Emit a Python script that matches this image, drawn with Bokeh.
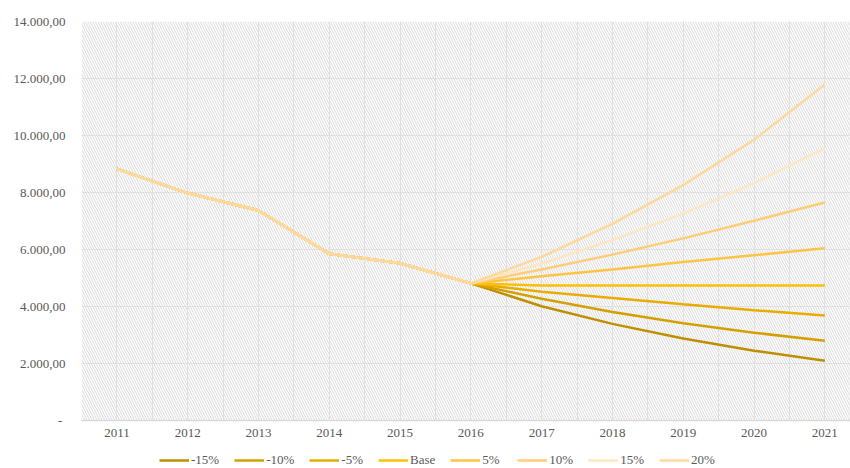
from bokeh.plotting import figure
from bokeh.layouts import column
from bokeh.models import (Range1d, FixedTicker, CustomJSTickFormatter, BoxAnnotation,
                          Legend, LegendItem)
from bokeh.embed import file_html
from bokeh.resources import INLINE

# ---- data ----
hist_years = [2011, 2012, 2013, 2014, 2015, 2016]
hist_values = [8830, 7980, 7370, 5850, 5520, 4810]

proj_years = [2017, 2018, 2019, 2020, 2021]
scenario_names = ["-15%", "-10%", "-5%", "Base", "5%", "10%", "15%", "20%"]
proj_m15 = [4010, 3390, 2880, 2450, 2100]
proj_m10 = [4270, 3810, 3410, 3080, 2800]
proj_m5 = [4520, 4300, 4080, 3870, 3680]
proj_base = [4740, 4740, 4740, 4740, 4740]
proj_p5 = [5060, 5300, 5560, 5800, 6040]
proj_p10 = [5300, 5820, 6390, 7010, 7650]
proj_p15 = [5510, 6330, 7260, 8330, 9550]
proj_p20 = [5740, 6900, 8260, 9850, 11790]
projections = [proj_m15, proj_m10, proj_m5, proj_base, proj_p5, proj_p10, proj_p15, proj_p20]

y_ticks = [0, 2000, 4000, 6000, 8000, 10000, 12000, 14000]

colors = ["#BF8F00", "#D4A000", "#E8AD00", "#FFC000", "#FFC444", "#FFCD78", "#FFE6C2", "#FFD89C"]

FONT = "Liberation Serif"
TXT = "#595959"

p = figure(width=850, height=440, output_backend="svg", toolbar_location=None,
           x_range=Range1d(2010.5, 2021.363), y_range=Range1d(0, 14000),
           min_border_left=81, min_border_right=0, min_border_top=21, min_border_bottom=20)
p.outline_line_color = None
p.background_fill_color = "white"
p.border_fill_color = "white"

# hatched plot-area background
p.add_layout(BoxAnnotation(fill_alpha=0, line_alpha=0, hatch_pattern="\\",
                           hatch_color="#dadada", hatch_scale=5, hatch_weight=1,
                           level="underlay"))

all_years = hist_years + proj_years
grid_x = [y - 0.5 for y in all_years] + all_years + [all_years[-1] + 0.5]
p.xgrid.ticker = FixedTicker(ticks=grid_x)
p.xgrid.grid_line_color = "#e4e4e4"
p.ygrid.ticker = FixedTicker(ticks=y_ticks)
p.ygrid.grid_line_color = "#e4e4e4"

p.xaxis.ticker = FixedTicker(ticks=all_years)
p.yaxis.ticker = FixedTicker(ticks=y_ticks)
p.yaxis.formatter = CustomJSTickFormatter(code="""
if (tick == 0) { return "-\\u00a0"; }
const s = Math.round(tick).toString().replace(/\\B(?=(\\d{3})+(?!\\d))/g, ".");
return s + ",00";
""")
for ax in (p.xaxis, p.yaxis):
    ax.major_label_text_font = FONT
    ax.major_label_text_font_size = "13px"
    ax.major_label_text_color = TXT
    ax.major_tick_line_color = None
    ax.minor_tick_line_color = None
p.yaxis.axis_line_color = None
p.yaxis.major_label_standoff = 10
p.xaxis.axis_line_color = "#d9d9d9"
p.xaxis.axis_line_width = 1.5
p.xaxis.major_label_standoff = 2

series = [hist_values + proj for proj in projections]
for name, vals, col in zip(scenario_names, series, colors):
    p.line(all_years, vals, line_color=col, line_width=2.5)

# legend strip below the chart (proxy lines lie outside its visible range)
lg = figure(width=850, height=28, output_backend="svg", toolbar_location=None,
            x_range=Range1d(0, 1), y_range=Range1d(0, 1),
            min_border_left=81, min_border_right=0, min_border_top=0, min_border_bottom=0)
lg.outline_line_color = None
lg.axis.visible = False
lg.grid.visible = False
items = []
for name, vals, col in zip(scenario_names, series, colors):
    r = lg.line(all_years, vals, line_color=col, line_width=2.5)
    items.append(LegendItem(label=name, renderers=[r]))
legend = Legend(items=items, orientation="horizontal", location=(78, 0),
                label_text_font=FONT, label_text_font_size="13px", label_text_color=TXT,
                glyph_width=30, glyph_height=10, label_standoff=2, spacing=15,
                padding=0, margin=0, border_line_color=None, background_fill_alpha=0,
                label_height=12)
lg.add_layout(legend)

layout = column(p, lg, spacing=0)
open("out.html", "w").write(file_html(layout, INLINE))
